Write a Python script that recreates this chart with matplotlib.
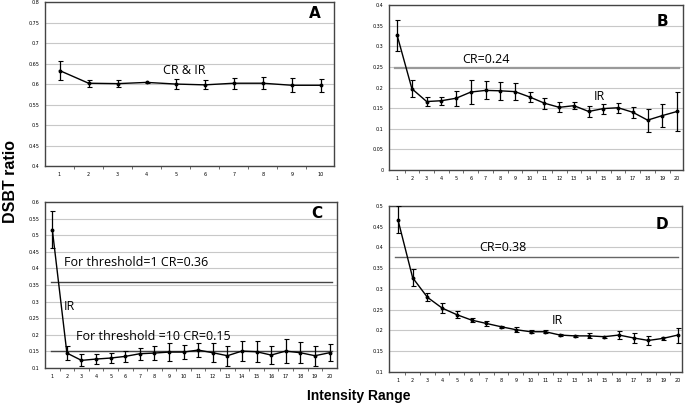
import numpy as np
import matplotlib
matplotlib.use("Agg")
import matplotlib.pyplot as plt

# Panel A: 10 intensity ranges, CR and IR coincide
a_x = list(range(1, 11))
a_y = [0.633, 0.602, 0.601, 0.604, 0.600, 0.598, 0.602, 0.602, 0.597, 0.597]
a_err = [0.022, 0.008, 0.009, 0.002, 0.012, 0.011, 0.013, 0.014, 0.017, 0.016]

# Panel B
b_x = list(range(1, 21))
b_y = [0.326, 0.197, 0.166, 0.168, 0.174, 0.189, 0.193, 0.192, 0.190, 0.177,
       0.162, 0.152, 0.156, 0.142, 0.149, 0.151, 0.140, 0.121, 0.132, 0.142]
b_err = [0.037, 0.021, 0.010, 0.010, 0.018, 0.028, 0.022, 0.022, 0.020, 0.012,
         0.013, 0.012, 0.008, 0.013, 0.012, 0.012, 0.014, 0.028, 0.027, 0.048]
b_cr = 0.248

# Panel C
c_x = list(range(1, 21))
c_y = [0.517, 0.145, 0.123, 0.127, 0.130, 0.135, 0.143, 0.145, 0.148, 0.148,
       0.154, 0.146, 0.137, 0.151, 0.149, 0.139, 0.151, 0.146, 0.137, 0.146]
c_err = [0.055, 0.020, 0.018, 0.016, 0.015, 0.016, 0.018, 0.020, 0.027, 0.022,
         0.020, 0.028, 0.030, 0.030, 0.032, 0.027, 0.035, 0.031, 0.030, 0.025]
c_cr1 = 0.358
c_cr10 = 0.150

# Panel D
d_x = list(range(1, 21))
d_y = [0.467, 0.327, 0.280, 0.254, 0.238, 0.225, 0.217, 0.209, 0.202, 0.197,
       0.197, 0.189, 0.187, 0.187, 0.185, 0.189, 0.182, 0.176, 0.181, 0.189]
d_err = [0.033, 0.020, 0.010, 0.011, 0.008, 0.005, 0.005, 0.003, 0.006, 0.004,
         0.003, 0.002, 0.002, 0.006, 0.002, 0.010, 0.013, 0.010, 0.004, 0.018]
d_cr = 0.377

FONT = "Open Sans"


def style_axes(ax, x, ymin, ymax, ystep, xlim):
    ticks = np.round(np.arange(ymin, ymax + ystep / 2, ystep), 3)
    ax.set_ylim(ymin, ymax)
    ax.set_xlim(*xlim)
    ax.set_yticks(ticks)
    ax.set_yticklabels([f"{t:g}" for t in ticks])
    ax.set_xticks(x)
    ax.set_xticks([v + 0.5 for v in x[:-1]], minor=True)
    ax.tick_params(axis="both", which="major", labelsize=3.5, length=0, pad=4)
    ax.tick_params(axis="x", which="minor", length=2, color="#555555")
    ax.yaxis.grid(True, color="#c8c8c8", lw=0.8)
    ax.set_axisbelow(True)
    for s in ax.spines.values():
        s.set_color("#444444")
        s.set_linewidth(1.0)


def draw_series(ax, x, y, err):
    ax.errorbar(x, y, yerr=err, color="black", lw=1.0, elinewidth=0.9,
                capsize=1.8, capthick=0.8, marker="o", ms=1.8, zorder=3)


fig = plt.figure(figsize=(6.85, 4.07), dpi=100)

axA = fig.add_axes([0.0657, 0.592, 0.422, 0.403])
axB = fig.add_axes([0.568, 0.582, 0.429, 0.406])
axC = fig.add_axes([0.0657, 0.0958, 0.426, 0.408])
axD = fig.add_axes([0.568, 0.086, 0.428, 0.408])

# A
style_axes(axA, a_x, 0.4, 0.8, 0.05, (0.5, 10.45))
draw_series(axA, a_x, a_y, a_err)
axA.text(5.3, 0.632, "CR & IR", fontsize=9, family=FONT, ha="center", va="center")
axA.text(0.935, 0.93, "A", transform=axA.transAxes, fontsize=11,
         fontweight="bold", ha="center", va="center")

# B
style_axes(axB, b_x, 0.0, 0.4, 0.05, (0.45, 20.4))
axB.axhline(b_cr, color="#999999", lw=1.6, xmin=0.02, xmax=0.985, zorder=2)
draw_series(axB, b_x, b_y, b_err)
axB.text(5.45, 0.269, "CR=0.24", fontsize=9, family=FONT, ha="left", va="center")
axB.text(14.7, 0.179, "IR", fontsize=9, family=FONT, ha="center", va="center")
axB.text(0.93, 0.9, "B", transform=axB.transAxes, fontsize=11,
         fontweight="bold", ha="center", va="center")

# C
style_axes(axC, c_x, 0.1, 0.6, 0.05, (0.5, 20.5))
axC.axhline(c_cr1, color="#444444", lw=1.0, xmin=0.02, xmax=0.985, zorder=2)
axC.axhline(c_cr10, color="#444444", lw=1.0, xmin=0.02, xmax=0.985, zorder=2)
draw_series(axC, c_x, c_y, c_err)
axC.text(1.8, 0.418, "For threshold=1 CR=0.36", fontsize=9, family=FONT,
         ha="left", va="center")
axC.text(1.8, 0.284, "IR", fontsize=9, family=FONT, ha="left", va="center")
axC.text(2.6, 0.195, "For threshold =10 CR=0.15", fontsize=9, family=FONT,
         ha="left", va="center")
axC.text(0.93, 0.93, "C", transform=axC.transAxes, fontsize=11,
         fontweight="bold", ha="center", va="center")

# D
style_axes(axD, d_x, 0.1, 0.5, 0.05, (0.4, 20.3))
axD.axhline(d_cr, color="#666666", lw=1.0, xmin=0.02, xmax=0.985, zorder=2)
draw_series(axD, d_x, d_y, d_err)
axD.text(6.5, 0.4, "CR=0.38", fontsize=9, family=FONT, ha="left", va="center")
axD.text(11.85, 0.223, "IR", fontsize=9, family=FONT, ha="center", va="center")
axD.text(0.93, 0.89, "D", transform=axD.transAxes, fontsize=11,
         fontweight="bold", ha="center", va="center")

fig.text(0.016, 0.553, "DSBT ratio", rotation=90, fontsize=11.5, fontweight="bold",
         family="Liberation Sans", ha="center", va="center")
fig.text(0.523, 0.027, "Intensity Range", fontsize=10, fontweight="bold",
         family="Liberation Sans", ha="center", va="center")

fig.savefig("out.png", dpi=100)
